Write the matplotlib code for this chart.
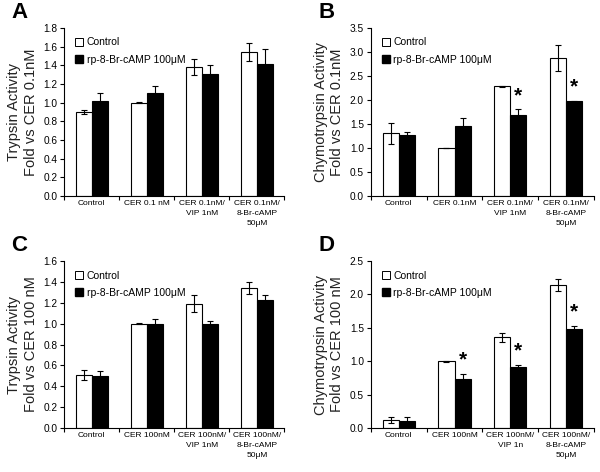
import matplotlib
matplotlib.use('Agg')
import matplotlib.pyplot as plt
import numpy as np
from matplotlib.lines import Line2D

plt.rcParams['font.family'] = ['Liberation Sans', 'DejaVu Sans']

# panel A: trypsin, CER 0.1nM
labels_a = ["Control", "CER 0.1 nM", "CER 0.1nM/\nVIP 1nM", "CER 0.1nM/\n8-Br-cAMP\n50μM"]
ctrl_a = [0.90, 1.00, 1.38, 1.54]
ctrl_a_err = [0.02, 0.005, 0.09, 0.10]
rp_a = [1.02, 1.10, 1.31, 1.41]
rp_a_err = [0.08, 0.08, 0.09, 0.16]
star_a = [False, False, False, False]

# panel B: chymotrypsin, CER 0.1nM
labels_b = ["Control", "CER 0.1nM", "CER 0.1nM/\nVIP 1nM", "CER 0.1nM/\n8-Br-cAMP\n50μM"]
ctrl_b = [1.30, 1.00, 2.28, 2.88]
ctrl_b_err = [0.21, 0.005, 0.01, 0.27]
rp_b = [1.27, 1.46, 1.69, 1.97]
rp_b_err = [0.06, 0.17, 0.11, 0.01]
star_b = [False, False, True, True]

# panel C: trypsin, CER 100nM
labels_c = ["Control", "CER 100nM", "CER 100nM/\nVIP 1nM", "CER 100nM/\n8-Br-cAMP\n50μM"]
ctrl_c = [0.51, 1.00, 1.19, 1.34]
ctrl_c_err = [0.05, 0.003, 0.08, 0.06]
rp_c = [0.50, 1.00, 1.00, 1.23]
rp_c_err = [0.05, 0.04, 0.03, 0.04]
star_c = [False, False, False, False]

# panel D: chymotrypsin, CER 100nM
labels_d = ["Control", "CER 100nM", "CER 100nM/\nVIP 1n", "CER 100nM/\n8-Br-cAMP\n50μM"]
ctrl_d = [0.12, 1.00, 1.36, 2.14]
ctrl_d_err = [0.05, 0.005, 0.07, 0.09]
rp_d = [0.11, 0.74, 0.91, 1.48]
rp_d_err = [0.05, 0.07, 0.04, 0.05]
star_d = [False, True, True, True]

fig = plt.figure(figsize=(6, 4.72), dpi=100)


def panel(rect, letter, labels, ctrl, ctrl_err, rp, rp_err, stars, ymax, ystep, ylabel):
    ax = fig.add_axes(rect)
    x = np.arange(len(labels))
    w = 0.29
    ax.bar(x - w / 2, ctrl, w, color='white', edgecolor='black', linewidth=0.8)
    ax.bar(x + w / 2, rp, w, color='black', edgecolor='black', linewidth=0.8)
    ax.errorbar(x - w / 2, ctrl, yerr=ctrl_err, fmt='none', ecolor='black',
                elinewidth=0.8, capsize=2.5, capthick=0.8)
    ax.errorbar(x + w / 2, rp, yerr=rp_err, fmt='none', ecolor='black',
                elinewidth=0.8, capsize=2.5, capthick=0.8)
    for i, s in enumerate(stars):
        if s:
            ax.text(x[i] + w / 2, rp[i] + rp_err[i] + ymax * 0.025, '*',
                    ha='center', va='bottom', fontsize=15, fontweight='bold')
    ax.set_xlim(-0.5, len(labels) - 0.5)
    ax.set_ylim(0, ymax)
    ax.set_yticks(np.arange(0, ymax + 1e-9, ystep))
    ax.yaxis.set_major_formatter(plt.FormatStrFormatter('%.1f'))
    ax.set_xticks(np.arange(-0.5, len(labels), 1.0))
    ax.set_xticklabels([])
    ax.set_xticks(x, minor=True)
    ax.set_xticklabels(labels, minor=True, fontsize=6.0, linespacing=1.6, va='top')
    ax.tick_params(axis='x', which='minor', length=0, pad=3)
    ax.tick_params(axis='x', which='major', length=3, width=0.8)
    ax.tick_params(axis='y', labelsize=7.3, length=3, width=0.8, pad=2)
    for sp in ['top', 'right']:
        ax.spines[sp].set_visible(False)
    for sp in ['left', 'bottom']:
        ax.spines[sp].set_linewidth(0.8)
    ax.set_ylabel(ylabel, fontsize=10.5, linespacing=1.2, labelpad=4, color='#222222')
    handles = [Line2D([], [], marker='s', linestyle='none', markerfacecolor='white',
                      markeredgecolor='black', markersize=5.5, markeredgewidth=0.7),
               Line2D([], [], marker='s', linestyle='none', markerfacecolor='black',
                      markeredgecolor='black', markersize=5.5)]
    ax.legend(handles, ['Control', 'rp-8-Br-cAMP 100μM'], loc='upper left',
              bbox_to_anchor=(0.02, 0.98), frameon=False, fontsize=7.5,
              handletextpad=0.35, handlelength=0.8, labelspacing=0.7, borderaxespad=0.2)
    fig.text(rect[0] - 0.088, rect[1] + rect[3] + 0.01, letter, fontsize=16,
             fontweight='bold', va='bottom', ha='left')
    return ax


panel([0.107, 0.585, 0.367, 0.356], 'A', labels_a, ctrl_a, ctrl_a_err, rp_a, rp_a_err,
      star_a, 1.8, 0.2, "Trypsin Activity\nFold vs CER 0.1nM")
panel([0.618, 0.585, 0.372, 0.356], 'B', labels_b, ctrl_b, ctrl_b_err, rp_b, rp_b_err,
      star_b, 3.5, 0.5, "Chymotrypsin Activity\nFold vs CER 0.1nM")
panel([0.107, 0.093, 0.367, 0.354], 'C', labels_c, ctrl_c, ctrl_c_err, rp_c, rp_c_err,
      star_c, 1.6, 0.2, "Trypsin Activity\nFold vs CER 100 nM")
panel([0.618, 0.093, 0.372, 0.354], 'D', labels_d, ctrl_d, ctrl_d_err, rp_d, rp_d_err,
      star_d, 2.5, 0.5, "Chymotrypsin Activity\nFold vs CER 100 nM")

fig.savefig('out.png', dpi=100)
